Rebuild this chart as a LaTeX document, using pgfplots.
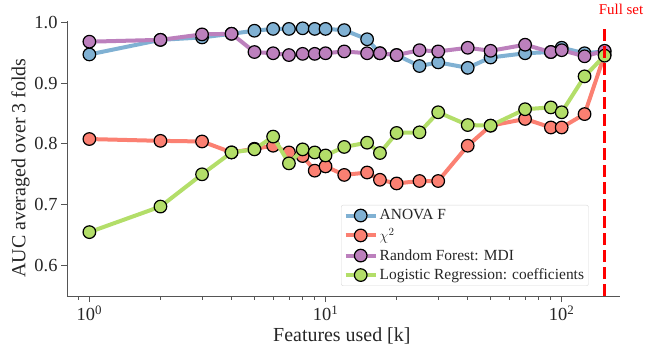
\documentclass[border=0pt]{standalone}
\usepackage{fontspec}
\setmainfont{Liberation Serif}
\usepackage{pgfplots}
\pgfplotsset{compat=1.18}
\definecolor{cblue}{HTML}{80B1D3}
\definecolor{cred}{HTML}{FB8072}
\definecolor{cpurple}{HTML}{BC80BD}
\definecolor{cgreen}{HTML}{B3DE69}
\definecolor{spine}{HTML}{555555}
\definecolor{txt}{HTML}{262626}
\begin{document}
\begin{tikzpicture}
\useasboundingbox (-67bp,-51bp) rectangle (579bp,296bp);
\begin{axis}[
  scale only axis, width=553bp, height=275bp,
  clip mode=individual,
  xmode=log, xmin=0.804, xmax=176.6, ymin=0.55, ymax=1.002,
  axis x line*=bottom, axis y line*=left,
  axis line style={spine, line width=0.9bp, -},
  tick align=outside, tick style={spine, line width=0.8bp},
  major tick length=6bp, minor tick length=3.5bp,
  xtick={1,10,100}, xticklabels={10\textsuperscript{0},10\textsuperscript{1},10\textsuperscript{2}},
  minor xtick={0.9,2,3,4,5,6,7,8,9,20,30,40,50,60,70,80,90},
  ytick={0.6,0.7,0.8,0.9,1.0},
  yticklabel style={/pgf/number format/fixed,/pgf/number format/fixed zerofill,/pgf/number format/precision=1},
  /pgf/number format/assume math mode=true,
  ticklabel style={font=\fontsize{18.5}{22}\selectfont, text=txt},
  xlabel={Features used [k]}, ylabel={AUC averaged over 3 folds},
  label style={font=\fontsize{20}{24}\selectfont, text=txt},
  every axis x label/.append style={at={(axis description cs:0.497,-0.145)}, anchor=center},
  every axis y label/.append style={at={(axis description cs:-0.084,0.465)}, anchor=center},
  legend style={at={(axis description cs:0.4955,0.331)}, anchor=north west,
    draw=black!15, rounded corners=2bp, fill=white, font=\fontsize{15.5}{17}\selectfont, text=txt,
    row sep=3.2bp, inner sep=2.5bp},
  legend cell align=left,
  legend image code/.code={\draw[#1, mark repeat=2, mark phase=2] plot coordinates {(0bp,0bp) (15bp,0bp) (30bp,0bp)};},
  every axis plot/.append style={line width=4bp, mark=*, mark size=6.3bp},
]
\addplot[cblue, mark options={draw=black, fill=cblue, line width=1.2bp}] coordinates {
(1,0.947) (2,0.971) (3,0.975) (4,0.981) (5,0.986) (6,0.989) (7,0.989) (8,0.990) (9,0.989) (10,0.989) (12,0.987) (15,0.972) (17,0.949) (20,0.946) (25,0.928) (30,0.934) (40,0.925) (50,0.942) (70,0.949) (90,0.951) (100,0.958) (125,0.949) (152,0.952)};
\addlegendentry{ANOVA F}
\addplot[cred, mark options={draw=black, fill=cred, line width=1.2bp}] coordinates {
(1,0.808) (2,0.805) (3,0.804) (4,0.786) (5,0.792) (6,0.797) (7,0.786) (8,0.780) (9,0.756) (10,0.763) (12,0.749) (15,0.753) (17,0.741) (20,0.735) (25,0.739) (30,0.739) (40,0.797) (50,0.830) (70,0.841) (90,0.827) (100,0.827) (125,0.849) (152,0.947)};
\addlegendentry{$\chi^2$}
\addplot[cpurple, mark options={draw=black, fill=cpurple, line width=1.2bp}] coordinates {
(1,0.968) (2,0.971) (3,0.980) (4,0.981) (5,0.951) (6,0.949) (7,0.946) (8,0.948) (9,0.948) (10,0.949) (12,0.952) (15,0.949) (17,0.949) (20,0.946) (25,0.954) (30,0.952) (40,0.958) (50,0.953) (70,0.963) (90,0.951) (100,0.954) (125,0.944) (152,0.953)};
\addlegendentry{Random Forest: MDI}
\addplot[cgreen, mark options={draw=black, fill=cgreen, line width=1.2bp}] coordinates {
(1,0.655) (2,0.697) (3,0.750) (4,0.786) (5,0.791) (6,0.812) (7,0.768) (8,0.791) (9,0.786) (10,0.781) (12,0.795) (15,0.802) (17,0.785) (20,0.818) (25,0.819) (30,0.852) (40,0.831) (50,0.830) (70,0.857) (90,0.860) (100,0.852) (125,0.911) (152,0.945)};
\addlegendentry{Logistic Regression: coefficients}
\addplot[red, line width=3bp, dash pattern=on 12bp off 5bp, mark=none, forget plot] coordinates {(152,0.55) (152,0.992)};
\node[anchor=base west, inner sep=0pt, text=red, font=\fontsize{15}{17}\selectfont, xshift=-6bp, yshift=6bp] at (axis cs:152,1.002) {Full set};
\end{axis}
\end{tikzpicture}
\end{document}
